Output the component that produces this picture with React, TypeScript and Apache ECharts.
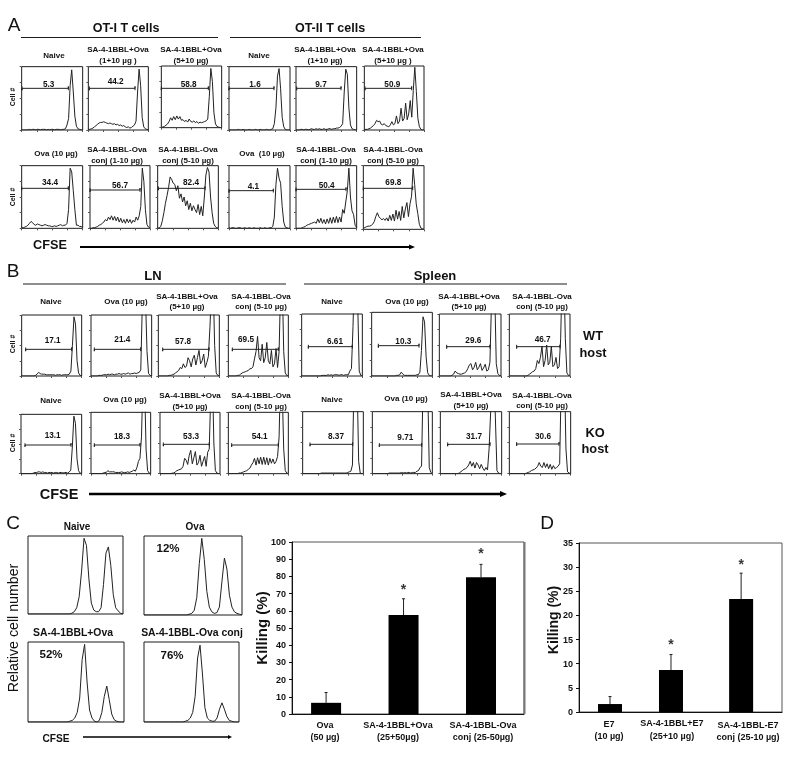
import React, { useEffect, useRef } from "react";
import * as echarts from "echarts";

// ---------- histogram values (40 channels, % of panel height; >100 runs off the frame) ----------
const A1 = [0,0,0,0,0,1,0,1,1,0,1,1,0,1,1,1,0,1,0,1,1,0,1,1,1,0,1,1,2,8,18,70,95,60,22,6,2,1,0,0];
const A2 = [1,1,2,3,5,7,9,11,12,12,13,12,11,10,11,10,9,10,8,9,7,8,6,7,5,4,5,3,4,6,8,14,60,96,70,20,5,2,1,0];
const A3 = [1,1,2,4,6,10,16,12,18,13,19,14,18,12,13,10,12,9,14,10,9,11,8,10,7,9,8,9,10,11,14,50,96,75,24,6,2,1,0,0];
const A4 = [0,0,0,0,0,0,1,0,0,1,0,0,0,1,0,0,0,1,0,0,1,0,0,0,1,0,0,1,2,10,35,85,97,65,20,5,1,0,0,0];
const A5 = [0,0,0,1,1,0,1,1,0,1,2,1,1,2,1,2,1,1,2,1,1,2,2,1,2,2,3,3,4,6,10,60,96,88,35,8,2,1,0,0];
const A6 = [1,1,1,2,3,5,7,10,15,13,14,9,8,10,7,6,5,8,13,8,10,22,10,14,34,14,18,42,16,25,46,20,62,98,60,18,5,1,0,0];
const A7 = [1,1,2,3,5,8,11,9,6,5,7,6,5,4,5,6,5,4,4,3,3,4,3,4,5,6,4,5,5,8,30,96,90,60,30,5,5,3,3,1];
const A8 = [0,0,1,1,2,3,5,6,8,10,14,12,18,14,20,13,19,12,18,10,16,9,14,8,15,9,14,8,13,10,18,13,20,35,96,75,30,6,2,0];
const A9 = [0,1,3,12,25,40,52,65,82,78,72,70,60,68,48,55,42,50,36,44,30,40,28,36,30,25,38,22,35,20,50,85,97,90,50,25,8,3,1,0];
const A10 = [1,0,1,1,0,0,1,1,0,0,1,0,0,1,0,0,1,0,0,0,1,0,0,1,0,0,1,1,3,18,70,96,80,72,35,10,2,1,0,0];
const A11 = [0,0,0,0,1,2,3,5,6,7,8,9,10,8,15,9,16,8,14,7,15,8,17,8,18,9,19,9,18,10,30,24,42,60,96,50,28,22,5,1];
const A12 = [1,3,4,5,5,6,8,12,20,26,20,17,15,17,14,18,13,22,14,24,13,30,16,28,14,36,18,32,42,20,40,52,96,70,40,25,8,2,1,0];

const B1 = [0,0,0,0,0,0,0,0,0,1,3,6,4,3,3,3,2,2,2,2,2,2,1,2,2,2,1,2,2,2,2,3,8,50,97,85,25,5,1,0];
const B2 = [0,0,0,0,0,1,1,1,2,2,2,3,2,3,3,2,3,3,4,3,3,4,3,4,5,3,4,4,5,4,5,6,10,120,160,130,40,4,1,0];
const B3 = [0,0,0,0,0,0,0,1,1,2,3,5,7,9,14,12,20,14,16,30,25,15,28,34,18,30,42,20,25,36,14,22,32,80,140,160,50,5,1,0];
const B4 = [0,0,0,0,0,0,1,1,3,5,6,7,8,9,12,12,15,28,40,65,30,25,52,22,30,55,25,20,42,15,20,45,14,40,150,160,40,5,1,0];
const B5 = [0,0,0,0,0,0,0,0,1,2,2,3,3,2,3,2,2,1,2,2,2,1,2,2,1,2,2,1,2,2,1,3,6,45,97,85,25,5,1,0];
const B6 = [0,0,0,0,0,0,0,0,1,2,2,5,3,3,3,3,2,2,2,2,3,2,2,2,3,2,3,4,6,4,10,20,25,60,160,150,40,5,1,0];
const B7 = [0,0,0,0,0,0,0,0,1,1,3,5,6,7,8,12,25,22,15,30,38,16,26,36,14,18,30,12,20,28,12,35,40,130,170,50,5,1,0,0];
const B8 = [0,0,0,0,0,0,0,1,1,2,3,4,5,7,9,14,18,25,14,26,16,27,15,27,15,26,14,25,17,24,16,20,28,60,170,140,40,5,1,0];
const B9 = [0,0,0,0,0,0,0,0,0,0,0,0,0,1,1,1,1,2,1,2,1,2,2,2,1,2,2,1,2,2,2,8,12,80,170,170,120,8,1,0];
const B10 = [0,0,0,0,0,0,0,0,0,0,0,0,0,0,0,0,1,1,2,6,3,1,1,1,1,1,1,1,1,2,2,6,40,93,85,30,5,1,0,0];
const B11 = [0,0,0,0,0,0,0,0,1,3,8,5,4,3,3,4,5,7,12,18,20,10,14,22,10,14,20,9,13,19,8,10,22,120,170,140,20,4,1,0];
const B12 = [0,0,0,0,0,0,0,0,0,0,0,0,1,3,5,7,8,12,25,20,30,48,15,25,50,18,22,48,15,18,30,12,15,60,170,170,60,5,1,0];
const B13 = [0,0,0,0,0,0,0,0,0,0,0,0,1,1,1,1,1,1,1,1,1,1,1,1,1,1,1,1,1,2,3,4,14,150,170,150,20,1,0,0];
const B14 = [0,0,0,0,0,0,0,0,0,0,0,1,1,1,1,1,1,1,1,2,1,2,1,2,2,1,2,2,2,4,5,10,12,150,170,170,140,10,2,0];
const B15 = [0,0,0,0,0,0,0,0,0,0,0,0,1,3,5,7,8,10,14,20,12,18,9,18,14,8,15,9,5,10,6,40,100,170,170,90,5,1,0,0];
const B16 = [0,0,0,0,0,0,0,0,0,0,0,1,2,3,5,6,7,9,12,18,12,10,18,10,16,8,15,7,13,8,10,12,16,150,170,170,40,3,1,0];

const C1 = [0,0,0,0,0,0,0,0,0,0,0,0,0,0,0,0,0,0,1,3,8,22,55,97,88,45,14,5,3,3,8,38,78,86,62,25,8,4,1,0];
const C2 = [0,0,0,0,0,0,0,0,0,0,0,0,0,0,0,0,0,0,1,2,6,22,65,97,70,30,10,4,2,3,10,42,72,58,25,10,4,2,1,0];
const C3 = [0,0,0,0,0,0,0,0,0,0,0,0,0,0,0,0,0,1,2,5,12,30,78,97,50,15,5,1,0,2,12,32,45,28,10,3,1,0,0,0];
const C4 = [0,0,0,0,0,0,0,0,0,0,0,0,0,0,0,0,0,1,2,5,12,32,80,96,60,18,5,2,1,1,5,16,24,16,7,2,1,0,0,0];

// ---------- bar chart values ----------
const cCategories = [["Ova", "(50 µg)"], ["SA-4-1BBL+Ova", "(25+50µg)"], ["SA-4-1BBL-Ova", "conj (25-50µg)"]];
const cKilling = [6.5, 57.5, 79.5];
const cErrorTop = [12.5, 67, 87];
const cStars = [null, 73.7, 95];
const dCategories = [["E7", "(10 µg)"], ["SA-4-1BBL+E7", "(25+10 µg)"], ["SA-4-1BBL-E7", "conj (25-10 µg)"]];
const dKilling = [1.65, 8.7, 23.4];
const dErrorTop = [3.2, 11.9, 28.75];
const dStars = [null, 14.4, 31];

// ---------- layout (panel frames, gates, and labels in page pixels) ----------
type Box = [number, number, number, number];
type Panel = { data: number[]; box: Box; gate?: [number, number, number]; label?: string; at?: [number, number]; ticks: boolean };
const z = (ox: number, oy: number) => (data: number[], b: Box, g: [number, number, number], label: string, at: [number, number]): Panel => ({
  data,
  box: [ox + b[0] / 3, ox + b[1] / 3, oy + b[2] / 3, oy + b[3] / 3],
  gate: [ox + g[0] / 3, ox + g[1] / 3, oy + g[2] / 3],
  label,
  at: [ox + at[0] / 3, oy + at[1] / 3],
  ticks: true,
});
const pa = z(0, 0), pb = z(0, 255), ps = z(300, 255);
const panels: Panel[] = [
  pa(A1, [65, 248, 200, 390], [66, 205, 265], "5.3", [146, 252]),
  pa(A2, [265, 445, 200, 390], [268, 405, 265], "44.2", [347, 243]),
  pa(A3, [484, 665, 198, 383], [484, 625, 265], "58.8", [566, 252]),
  pa(A4, [687, 870, 200, 390], [687, 822, 265], "1.6", [765, 252]),
  pa(A5, [888, 1070, 200, 390], [890, 1023, 265], "9.7", [963, 252]),
  pa(A6, [1093, 1272, 198, 390], [1095, 1235, 265], "50.9", [1177, 252]),
  pa(A7, [65, 248, 497, 685], [65, 205, 565], "34.4", [150, 548]),
  pa(A8, [270, 450, 497, 685], [270, 420, 570], "56.7", [360, 555]),
  pa(A9, [473, 655, 497, 685], [475, 615, 565], "82.4", [573, 548]),
  pa(A10, [687, 870, 497, 685], [687, 820, 572], "4.1", [760, 558]),
  pa(A11, [888, 1070, 497, 685], [888, 1038, 568], "50.4", [980, 555]),
  pa(A12, [1090, 1272, 497, 688], [1090, 1238, 565], "69.8", [1180, 548]),
  pb(B1, [65, 245, 180, 363], [77, 215, 283], "17.1", [158, 255]),
  pb(B2, [273, 455, 180, 363], [283, 422, 283], "21.4", [367, 252]),
  pb(B3, [475, 658, 180, 363], [488, 627, 283], "57.8", [549, 258]),
  pb(B4, [685, 865, 180, 363], [697, 835, 283], "69.5", [738, 254]),
  ps(B9, [5, 187, 177, 363], [25, 157, 275], "6.61", [105, 258]),
  ps(B10, [215, 397, 172, 363], [235, 357, 272], "10.3", [310, 258]),
  ps(B11, [418, 603, 177, 363], [440, 570, 275], "29.6", [520, 256]),
  ps(B12, [628, 810, 177, 363], [650, 780, 275], "46.7", [728, 253]),
  pb(B5, [63, 245, 478, 656], [75, 213, 570], "13.1", [158, 542]),
  pb(B6, [273, 452, 472, 656], [283, 420, 570], "18.3", [366, 545]),
  pb(B7, [480, 660, 472, 656], [490, 628, 568], "53.3", [573, 543]),
  pb(B8, [685, 865, 472, 656], [695, 835, 570], "54.1", [779, 543]),
  ps(B13, [8, 190, 470, 656], [30, 158, 568], "8.37", [108, 544]),
  ps(B14, [217, 397, 470, 656], [238, 365, 570], "9.71", [316, 546]),
  ps(B15, [421, 605, 470, 656], [443, 570, 568], "31.7", [522, 544]),
  ps(B16, [628, 812, 470, 656], [650, 777, 567], "30.6", [729, 543]),
  { data: C1, box: [28, 123, 536, 614], ticks: false },
  { data: C2, box: [144, 242, 536, 615], ticks: false },
  { data: C3, box: [28, 124, 642, 722], ticks: false },
  { data: C4, box: [144, 239, 642, 722], ticks: false },
];

const FONT = "Liberation Sans";
const INK = "#1c1c1c";

// [text, x, y, size, weight]
type T = [string, number, number, number, string?];
const S = 8;
const L = 9;
const texts: T[] = [
  ["A", 14, 24, 19, "normal"], ["B", 13, 270, 19, "normal"], ["C", 13, 522, 19, "normal"], ["D", 547, 522, 19, "normal"],
  ["OT-I T cells", 126, 28, 12.5], ["OT-II T cells", 330, 28, 12.5],
  ["Naive", 54, 55, S], ["SA-4-1BBL+Ova", 118, 49, S], ["(1+10 µg )", 118, 60, S],
  ["SA-4-1BBL+Ova", 191, 49, S], ["(5+10 µg)", 191, 60, S],
  ["Naive", 259, 55, S], ["SA-4-1BBL+Ova", 325, 49, S], ["(1+10 µg)", 325, 60, S],
  ["SA-4-1BBL+Ova", 393, 49, S], ["(5+10 µg )", 393, 60, S],
  ["Ova (10 µg)", 56, 153, S], ["SA-4-1BBL-Ova", 117, 149, S], ["conj (1-10 µg)", 117, 160, S],
  ["SA-4-1BBL-Ova", 188, 149, S], ["conj (5-10 µg)", 188, 160, S],
  ["Ova  (10 µg)", 262, 153, S], ["SA-4-1BBL-Ova", 326, 149, S], ["conj (1-10 µg)", 326, 160, S],
  ["SA-4-1BBL-Ova", 393, 149, S], ["conj (5-10 µg)", 393, 160, S],
  ["CFSE", 50, 245, 12.7],
  ["LN", 153, 275, 13], ["Spleen", 435, 275, 13],
  ["Naive", 51, 301, S], ["Ova (10 µg)", 126, 301, S], ["SA-4-1BBL+Ova", 187, 296, S], ["(5+10 µg)", 187, 306, S],
  ["SA-4-1BBL-Ova", 261, 296, S], ["conj (5-10 µg)", 261, 306, S],
  ["Naive", 332, 301, S], ["Ova (10 µg)", 407, 301, S], ["SA-4-1BBL+Ova", 469, 296, S], ["(5+10 µg)", 469, 306, S],
  ["SA-4-1BBL-Ova", 542, 296, S], ["conj (5-10 µg)", 542, 306, S],
  ["Naive", 51, 400, S], ["Ova (10 µg)", 125, 399, S], ["SA-4-1BBL+Ova", 190, 395, S], ["(5+10 µg)", 190, 406, S],
  ["SA-4-1BBL-Ova", 261, 395, S], ["conj (5-10 µg)", 261, 406, S],
  ["Naive", 332, 399, S], ["Ova (10 µg)", 406, 398, S], ["SA-4-1BBL+Ova", 471, 394, S], ["(5+10 µg)", 471, 405, S],
  ["SA-4-1BBL-Ova", 542, 395, S], ["conj (5-10 µg)", 542, 405, S],
  ["WT", 593, 335, 12.8], ["host", 593, 352, 12.8], ["KO", 595, 432, 12.8], ["host", 595, 448, 12.8],
  ["CFSE", 59, 494, 14.5],
  ["Naive", 77, 526, 10], ["Ova", 195, 526, 10], ["SA-4-1BBL+Ova", 73, 632, 10.4], ["SA-4-1BBL-Ova conj", 192, 632, 10.4],
  ["12%", 168, 548, 11.5], ["52%", 51, 654, 11.5], ["76%", 172, 655, 11.5],
  ["CFSE", 56, 738, 10.2],
  [cCategories[0][0], 325, 725, L], [cCategories[0][1], 325, 737, L],
  [cCategories[1][0], 398, 725, L], [cCategories[1][1], 398, 737, L],
  [cCategories[2][0], 483, 725, L], [cCategories[2][1], 483, 737, L],
  [dCategories[0][0], 609, 724, L], [dCategories[0][1], 609, 736, L],
  [dCategories[1][0], 672, 723, L], [dCategories[1][1], 672, 736, L],
  [dCategories[2][0], 748, 725, L], [dCategories[2][1], 748, 737, L],
];
// [text, x, y, size, weight] rotated a quarter turn
const sideTexts: T[] = [
  ["Cell #", 12, 97, 7], ["Cell #", 12, 197, 7], ["Cell #", 12, 344, 7], ["Cell #", 12, 443, 7],
  ["Relative cell number", 13, 628, 14.2, "normal"],
  ["Killing (%)", 261, 628, 15], ["Killing (%)", 553, 620, 14],
];
// [x0, x1, y, width]
const rules: [number, number, number, number][] = [
  [21, 218, 37.5, 1], [230, 421, 37.5, 1], [23, 286, 284, 1], [304, 567, 284, 1],
];
// [x0, x1, y, width, head length, head half-height]
const arrows: [number, number, number, number, number, number][] = [
  [80, 415, 247, 2, 6, 2.5], [89, 507, 494, 2.5, 7, 3], [83, 232, 737, 1.5, 4, 2],
];

const textEl = (t: T, rotation = 0) => ({
  type: "text",
  x: t[1],
  y: t[2],
  rotation,
  silent: true,
  style: {
    text: t[0], fill: "#111", fontFamily: FONT, fontSize: t[3], fontWeight: t[4] || "bold",
    align: "center", verticalAlign: "middle", textAlign: "center", textVerticalAlign: "middle",
  },
});

function buildOption() {
  const grid: any[] = [], xAxis: any[] = [], yAxis: any[] = [], series: any[] = [];
  const elements: any[] = [];
  texts.forEach((t) => elements.push(textEl(t)));
  sideTexts.forEach((t) => elements.push(textEl(t, Math.PI / 2)));
  rules.forEach(([a, b, y, w]) =>
    elements.push({ type: "line", silent: true, shape: { x1: a, y1: y, x2: b, y2: y }, style: { stroke: INK, lineWidth: w } })
  );
  arrows.forEach(([a, b, y, w, hl, hh]) => {
    elements.push({ type: "line", silent: true, shape: { x1: a, y1: y, x2: b - hl + 1, y2: y }, style: { stroke: "#000", lineWidth: w } });
    elements.push({ type: "polygon", silent: true, shape: { points: [[b - hl, y - hh], [b, y], [b - hl, y + hh]] }, style: { fill: "#000" } });
  });

  panels.forEach((p, i) => {
    const [x0, x1, y0, y1] = p.box;
    grid.push({ left: x0, top: y0, width: x1 - x0, height: y1 - y0, show: true, borderColor: INK, borderWidth: 1, backgroundColor: "#fff" });
    const tick = { show: p.ticks, length: 2, lineStyle: { color: "#555", width: 1 } };
    xAxis.push({ type: "value", gridIndex: i, min: 0, max: 39, interval: 9.75, axisLine: { show: false }, axisTick: tick, axisLabel: { show: false }, splitLine: { show: false } });
    yAxis.push({ type: "value", gridIndex: i, min: 0, max: 100, interval: 25, axisLine: { show: false }, axisTick: tick, axisLabel: { show: false }, splitLine: { show: false } });
    series.push({
      type: "line", xAxisIndex: i, yAxisIndex: i, symbol: "none", silent: true,
      lineStyle: { color: "#222", width: 1 },
      data: p.data.map((v, k) => [k, v]),
    });
    if (p.gate) {
      const fx = (px: number) => ((px - x0) / (x1 - x0)) * 39;
      const fy = (py: number) => ((y1 - py) / (y1 - y0)) * 100;
      const [ga, gb, gy] = p.gate;
      const c = fy(gy), d = 3;
      series.push({
        type: "line", xAxisIndex: i, yAxisIndex: i, symbol: "none", silent: true,
        lineStyle: { color: "#222", width: 1 },
        data: [[fx(ga), c + d], [fx(ga), c - d], [fx(ga), c], [fx(gb), c], [fx(gb), c + d], [fx(gb), c - d]],
      });
      elements.push(textEl([p.label as string, (p.at as number[])[0], (p.at as number[])[1], 8.2]));
    }
  });

  const addBars = (left: number, top: number, width: number, height: number, max: number, interval: number,
    xs: number[], xMin: number, xMax: number, barWidth: number, vals: number[], errs: number[], stars: (number | null)[]) => {
    const i = grid.length;
    grid.push({ left, top, width, height, show: true, borderColor: "#555", borderWidth: 1 });
    xAxis.push({ type: "value", gridIndex: i, min: xMin, max: xMax, axisLine: { show: true, onZero: false, lineStyle: { color: "#111" } }, axisTick: { show: false }, axisLabel: { show: false }, splitLine: { show: false } });
    yAxis.push({
      type: "value", gridIndex: i, min: 0, max, interval,
      axisLine: { show: true, onZero: false, lineStyle: { color: "#111" } },
      axisTick: { show: true, length: 3, lineStyle: { color: "#111" } },
      axisLabel: { show: true, color: "#111", fontFamily: FONT, fontWeight: "bold", fontSize: 9, margin: 6 },
      splitLine: { show: false },
    });
    series.push({
      type: "custom", xAxisIndex: i, yAxisIndex: i, silent: true, z: 1,
      encode: { x: 0, y: 2 },
      data: xs.map((x, k) => [x, vals[k], errs[k]]),
      renderItem: (_: any, api: any) => {
        const a = api.coord([api.value(0), api.value(1)]);
        const b = api.coord([api.value(0), api.value(2)]);
        const st = { stroke: "#222", lineWidth: 1, fill: "none" };
        return {
          type: "group",
          children: [
            { type: "line", shape: { x1: a[0], y1: a[1], x2: b[0], y2: b[1] }, style: st },
            { type: "line", shape: { x1: b[0] - 1.5, y1: b[1], x2: b[0] + 1.5, y2: b[1] }, style: st },
          ],
        };
      },
    });
    series.push({
      type: "bar", xAxisIndex: i, yAxisIndex: i, silent: true, barWidth, z: 2,
      itemStyle: { color: "#000" },
      data: xs.map((x, k) => [x, vals[k]]),
    });
    series.push({
      type: "scatter", xAxisIndex: i, yAxisIndex: i, silent: true, symbolSize: 0, z: 3,
      label: { show: true, position: "inside", formatter: "*", color: "#000", fontFamily: FONT, fontWeight: "bold", fontSize: 14, offset: [0, 2] },
      data: xs.map((x, k) => [x, stars[k]]).filter((d) => d[1] !== null),
    });
  };
  addBars(292, 542, 232, 172, 100, 10, [0, 1, 2], -0.44, 2.555, 30, cKilling, cErrorTop, cStars);
  addBars(579, 543, 203, 169, 35, 5, [0, 1, 2.15], -0.508, 2.82, 24, dKilling, dErrorTop, dStars);
  elements.push({ type: "line", silent: true, shape: { x1: 524.5, y1: 542, x2: 524.5, y2: 714 }, style: { stroke: "#777", lineWidth: 2 } });

  return { animation: false, backgroundColor: "#fff", textStyle: { fontFamily: FONT }, grid, xAxis, yAxis, series, graphic: elements };
}

export default function App() {
  const ref = useRef<HTMLDivElement>(null);
  useEffect(() => {
    const chart = echarts.init(ref.current as HTMLDivElement, undefined, { renderer: "svg" });
    chart.setOption(buildOption() as any);
    return () => chart.dispose();
  }, []);
  return <div ref={ref} style={{ position: "fixed", left: 0, top: 0, width: 800, height: 761, background: "#fff", filter: "blur(0.35px)" }} />;
}
